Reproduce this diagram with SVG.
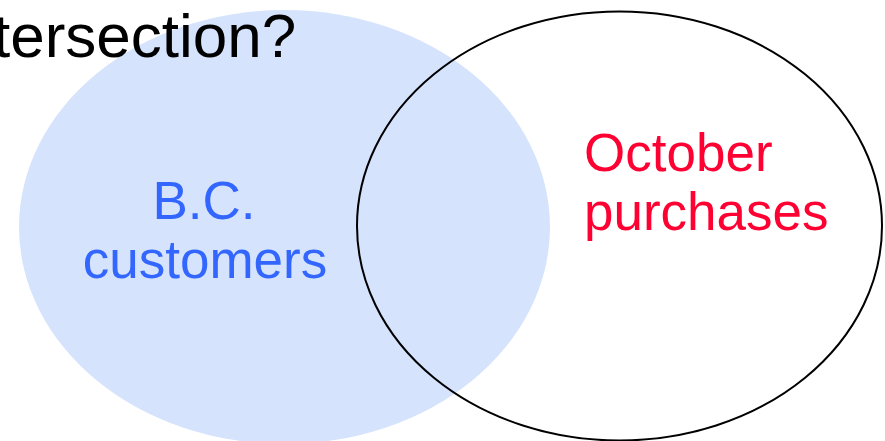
<svg xmlns="http://www.w3.org/2000/svg" width="885" height="441" viewBox="0 0 885 441">
<style>
text{font-family:"Liberation Sans",Arial,sans-serif}
.lbl{font-size:53px;text-anchor:middle}
</style>
<rect width="885" height="441" fill="#FFFFFF"/>
<g id="bc-customers">
<ellipse cx="284.5" cy="227" rx="265.5" ry="217" fill="#D5E3FC"/>
<text class="lbl" x="204" y="219" fill="#3366FF">B.C.</text>
<text class="lbl" x="205" y="278" fill="#3366FF">customers</text>
</g>
<text x="-7" y="57" font-size="62" fill="#000000">tersection?</text>
<g id="october-purchases">
<ellipse cx="619.5" cy="226" rx="262.5" ry="214.5" fill="none" stroke="#000000" stroke-width="2"/>
<text x="584" y="171" font-size="53" fill="#FF0033">October</text>
<text x="584" y="230" font-size="53" fill="#FF0033">purchases</text>
</g>
<g id="connectors"/>
</svg>
